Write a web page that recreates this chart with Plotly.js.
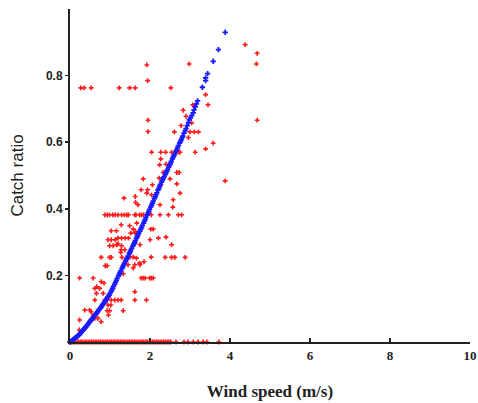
<!DOCTYPE html>
<html>
<head>
<meta charset="utf-8">
<script src="https://cdn.plot.ly/plotly-3.0.1.min.js"></script>
<style>
html,body{margin:0;padding:0;background:#fff;}
#chart{width:478px;height:403px;}
</style>
</head>
<body>
<div id="chart"></div>
<script>
const redX = [
  4.38,4.68,4.66,4.68,2.98,3.88,3.39,3.45,3.07,2.83,2.90,3.04,2.78,
  3.00,3.11,3.21,2.61,2.96,3.58,3.39,3.13,2.75,
  2.04,2.27,2.39,2.54,2.63,2.72,2.27,2.24,2.40,
  2.67,2.73,2.33,1.83,2.50,2.23,1.92,1.94,
  0.27,0.35,0.53,1.23,1.49,1.63,2.52,
  1.95,1.95,2.67,2.75,2.06,2.27,1.78,1.94,2.04,
  1.35,1.63,1.64,1.70,2.25,2.58,2.57,1.92,
  0.87,0.93,0.99,1.07,1.13,1.20,1.29,1.36,1.42,1.46,1.62,1.65,1.74,1.79,1.84,1.92,2.03,2.25,2.46,2.71,2.79,
  1.28,1.49,1.67,1.58,1.64,2.02,2.08,1.03,1.16,1.52,1.63,
  0.95,1.03,1.13,1.20,1.29,1.38,1.46,2.00,2.21,2.40,
  1.17,1.29,0.99,1.08,1.20,1.63,1.75,2.54,1.28,1.37,
  0.78,0.99,1.03,1.27,1.30,1.66,1.50,1.58,2.38,2.54,2.62,2.88,2.03,
  1.74,1.85,1.75,1.45,1.62,0.88,0.93,1.33,1.58,
  0.24,0.58,1.78,1.83,1.88,1.99,2.03,2.08,
  0.78,0.85,0.62,0.74,0.67,0.83,0.66,1.62,
  0.62,0.87,0.93,1.03,1.12,1.20,1.28,1.62,1.91,
  0.95,1.02,0.37,0.49,0.53,0.93,0.99,1.33,
  0.58,0.62,0.70,0.24,0.78,0.23,0.96
];
const redY = [
  0.893,0.867,0.835,0.666,0.835,0.484,0.743,0.712,0.712,0.696,0.678,0.658,0.650,
  0.631,0.631,0.631,0.631,0.614,0.597,0.580,0.570,0.570,
  0.570,0.570,0.570,0.570,0.570,0.570,0.550,0.532,0.534,
  0.509,0.509,0.509,0.490,0.490,0.492,0.832,0.785,
  0.763,0.763,0.763,0.763,0.763,0.763,0.763,
  0.666,0.632,0.475,0.447,0.472,0.472,0.457,0.457,0.442,
  0.432,0.437,0.419,0.412,0.412,0.427,0.405,0.447,
  0.382,0.382,0.382,0.382,0.382,0.382,0.382,0.382,0.382,0.382,0.382,0.382,0.382,0.382,0.382,0.382,0.382,0.382,0.382,0.382,0.382,
  0.352,0.349,0.357,0.339,0.332,0.339,0.339,0.334,0.334,0.327,0.327,
  0.307,0.307,0.307,0.312,0.312,0.312,0.312,0.307,0.312,0.315,
  0.292,0.289,0.289,0.289,0.295,0.297,0.292,0.292,0.277,0.277,
  0.254,0.254,0.254,0.269,0.254,0.252,0.255,0.255,0.254,0.254,0.254,0.254,0.255,
  0.237,0.241,0.232,0.232,0.232,0.229,0.229,0.205,0.222,
  0.192,0.192,0.192,0.192,0.192,0.192,0.192,0.192,
  0.181,0.177,0.161,0.161,0.166,0.146,0.146,0.151,
  0.126,0.126,0.126,0.126,0.126,0.126,0.126,0.126,0.126,
  0.111,0.111,0.096,0.096,0.091,0.094,0.094,0.094,
  0.081,0.071,0.071,0.066,0.061,0.036,0.081
];
// Red points lying on zero catch ratio
const redZeroX = [
  0,0.04,0.09,0.13,0.18,0.22,0.27,0.31,0.36,0.40,0.45,0.49,0.54,0.58,0.63,0.67,0.72,0.76,0.81,0.85,
  0.90,0.94,0.99,1.03,1.08,1.12,1.17,1.21,1.26,1.30,1.35,1.39,1.44,1.48,1.53,1.57,1.62,1.66,1.71,1.75,
  1.80,1.84,1.89,1.93,1.98,2.02,2.07,2.11,2.16,2.20,2.25,2.29,2.34,2.38,2.43,2.47,2.52,
  2.65,2.85,2.95,3.08,3.20,3.33,3.42,3.72
];
const redZeroY = redZeroX.map(() => 0);

// Fitted (blue) points, [wind speed, catch ratio]
const blueFit = [
  [0.00,0.000],[0.02,0.001],[0.04,0.003],[0.06,0.005],[0.08,0.007],[0.10,0.009],[0.13,0.012],[0.15,0.014],
  [0.17,0.016],[0.19,0.018],[0.22,0.021],[0.24,0.023],[0.26,0.026],[0.28,0.030],[0.31,0.033],[0.33,0.036],
  [0.35,0.039],[0.37,0.042],[0.40,0.046],[0.42,0.049],[0.44,0.052],[0.46,0.056],[0.49,0.060],[0.51,0.063],
  [0.53,0.066],[0.55,0.069],[0.58,0.073],[0.60,0.077],[0.62,0.080],[0.64,0.083],[0.67,0.087],[0.69,0.091],
  [0.71,0.094],[0.73,0.098],[0.76,0.102],[0.78,0.105],[0.80,0.109],[0.82,0.113],[0.85,0.117],[0.87,0.121],
  [0.89,0.125],[0.91,0.129],[0.94,0.134],[0.96,0.137],[0.98,0.141],[1.00,0.146],[1.03,0.152],[1.05,0.157],
  [1.07,0.162],[1.09,0.168],[1.12,0.174],[1.14,0.180],[1.16,0.185],[1.18,0.191],[1.21,0.198],[1.23,0.203],
  [1.25,0.208],[1.27,0.214],[1.30,0.221],[1.32,0.226],[1.34,0.231],[1.36,0.237],[1.39,0.243],[1.41,0.248],
  [1.43,0.252],[1.45,0.258],[1.48,0.265],[1.50,0.270],[1.52,0.275],[1.54,0.281],[1.57,0.288],[1.59,0.293],
  [1.61,0.298],[1.63,0.304],[1.66,0.311],[1.68,0.316],[1.70,0.321],[1.72,0.327],[1.75,0.333],[1.77,0.339],
  [1.79,0.344],[1.81,0.350],[1.84,0.357],[1.86,0.363],[1.88,0.368],[1.90,0.374],[1.93,0.382],[1.95,0.387],
  [1.97,0.392],[1.99,0.398],[2.02,0.406],[2.04,0.411],[2.06,0.417],[2.08,0.423],[2.11,0.431],[2.13,0.436],
  [2.15,0.442],[2.17,0.448],[2.20,0.456],[2.22,0.461],[2.24,0.467],[2.26,0.473],[2.29,0.480],[2.31,0.486],
  [2.33,0.491],[2.35,0.496],[2.38,0.503],[2.40,0.508],[2.42,0.513],[2.44,0.518],[2.47,0.525],[2.49,0.531],
  [2.51,0.536],[2.53,0.542],[2.56,0.550],[2.58,0.555],[2.60,0.560],[2.62,0.565],[2.65,0.573],[2.67,0.578],
  [2.69,0.584],[2.71,0.590],[2.74,0.597],[2.76,0.602],[2.78,0.607],[2.80,0.613],[2.82,0.618],[2.85,0.627],
  [2.88,0.635],[2.90,0.641],[2.93,0.650],[2.96,0.659],[2.98,0.667],[3.01,0.673],[3.04,0.680],[3.08,0.688],
  [3.10,0.697],[3.13,0.706],[3.16,0.715],[3.19,0.724],[3.31,0.765],[3.39,0.785],[3.39,0.793],[3.44,0.806],
  [3.58,0.843],[3.71,0.878],[3.88,0.930]
];

const xTicks = [0,2,4,6,8,10];
const yTicks = [0.2,0.4,0.6,0.8];

const redMarker = {symbol:'cross', size:4, color:'#ff1a1a'};
const blueMarker = {symbol:'cross', size:4.5, color:'#1a1aff'};

const data = [
  {x: redZeroX, y: redZeroY, mode:'markers', type:'scatter', marker: redMarker, cliponaxis:false, hoverinfo:'skip'},
  {x: redX, y: redY, mode:'markers', type:'scatter', marker: redMarker, cliponaxis:false, hoverinfo:'skip'},
  {x: blueFit.map(p => p[0]), y: blueFit.map(p => p[1]), mode:'markers', type:'scatter', marker: blueMarker, cliponaxis:false, hoverinfo:'skip'}
];

const layout = {
  width:478, height:403,
  margin:{l:70, r:8, t:9, b:61},
  paper_bgcolor:'#fff', plot_bgcolor:'#fff',
  showlegend:false,
  xaxis:{
    range:[0,10], tickvals:xTicks, ticktext:xTicks.map(String),
    ticks:'inside', ticklen:4, tickwidth:1.5, tickcolor:'#222',
    showline:true, linecolor:'#222', linewidth:2, mirror:false,
    showgrid:false, zeroline:false,
    tickfont:{family:'Liberation Serif, Times New Roman, serif', size:13, color:'#222', weight:'bold'},
    title:{text:'<b>Wind speed (m/s)</b>', font:{family:'Liberation Serif, Times New Roman, serif', size:17, color:'#222'}, standoff:24}
  },
  yaxis:{
    range:[0,1], tickvals:yTicks, ticktext:yTicks.map(String),
    ticks:'outside', ticklen:3, tickwidth:1.5, tickcolor:'#222',
    showline:true, linecolor:'#222', linewidth:2, mirror:false,
    showgrid:false, zeroline:false,
    tickfont:{family:'Liberation Sans, Arial, sans-serif', size:12, color:'#222', weight:'bold'},
    title:{text:'Catch ratio', font:{family:'Liberation Sans, Arial, sans-serif', size:17, color:'#222'}, standoff:18}
  }
};

Plotly.newPlot('chart', data, layout, {displayModeBar:false, staticPlot:true});
</script>
</body>
</html>
